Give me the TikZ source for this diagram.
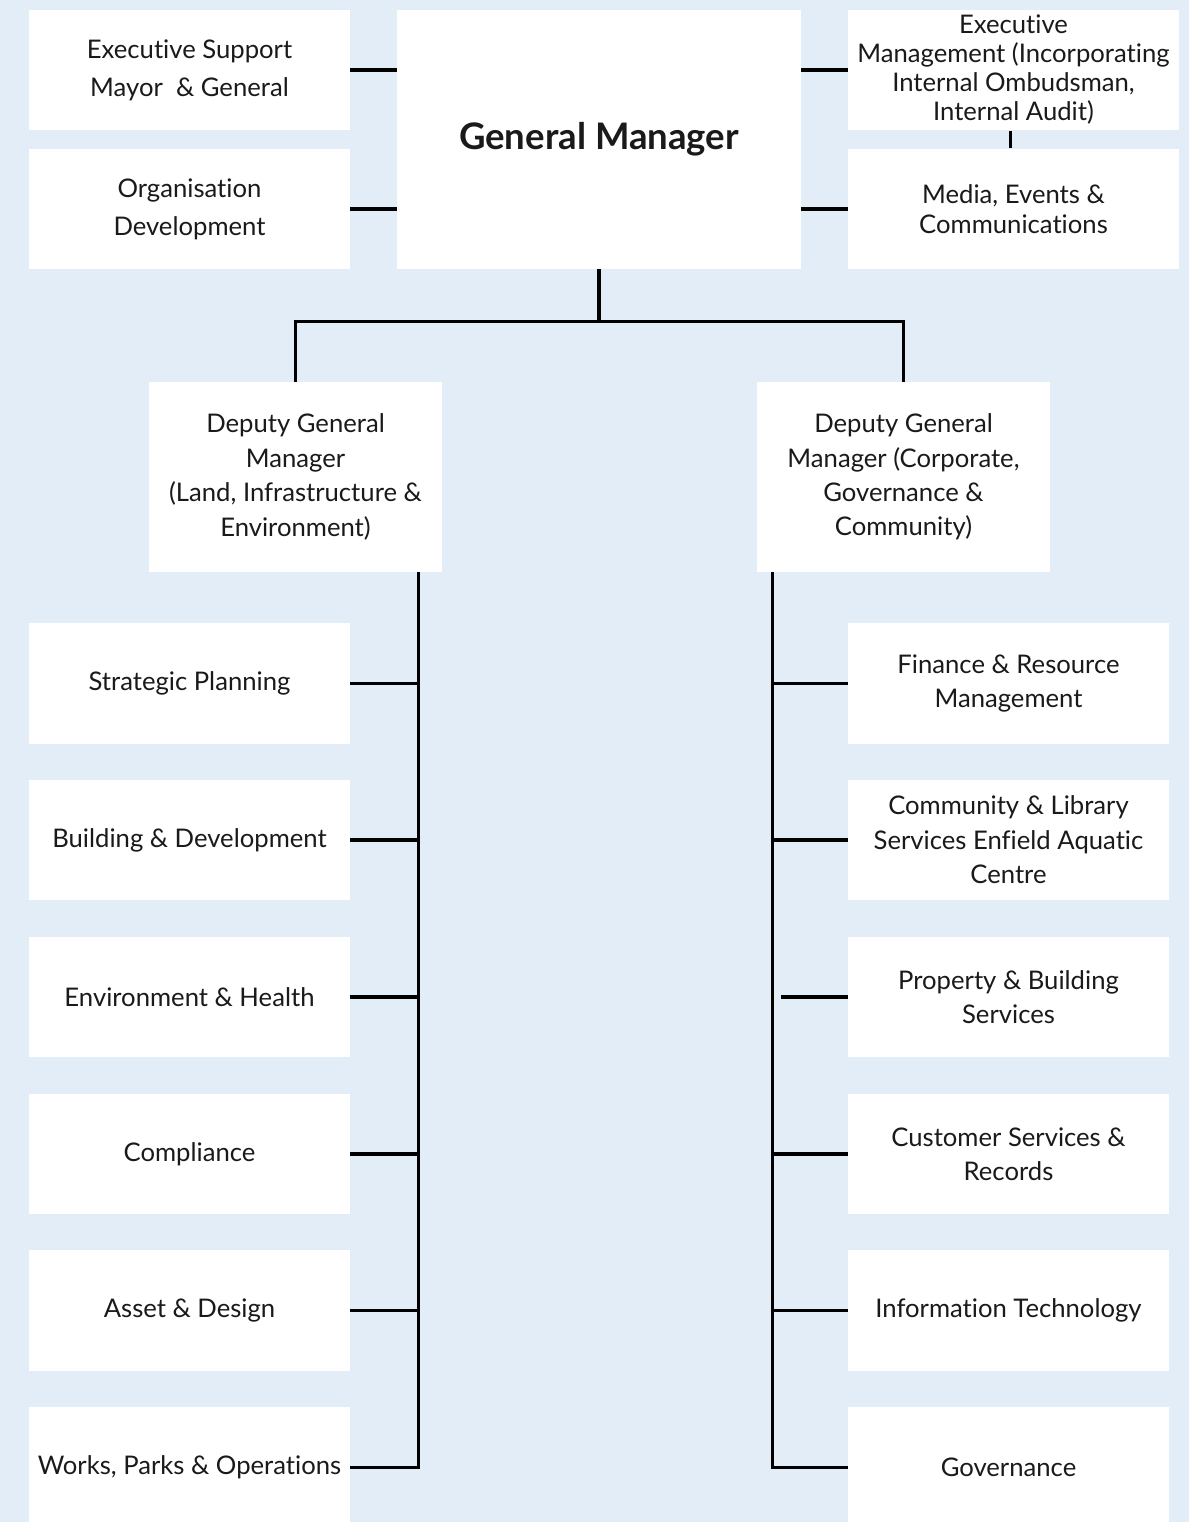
\documentclass[tikz,border=0pt]{standalone}
\usepackage{fontspec}
\setmainfont[Ligatures=NoCommon]{Lato}
\usetikzlibrary{calc}
\definecolor{bgblue}{RGB}{227,237,247}
\definecolor{ink}{RGB}{26,26,26}

\begin{document}
\begin{tikzpicture}[
    box/.style={fill=white, text=ink, align=center, inner sep=0pt, minimum width=6.42cm, minimum height=2.41cm, font=\fontsize{14.6}{19.6}\selectfont},
    dgm/.style={box, minimum width=5.86cm, minimum height=3.8cm},
    link/.style={draw=black, line width=1.75pt}]
        \fill[bgblue] (0, 0) rectangle (23.78, -30.44);
        \useasboundingbox (0, 0) rectangle (23.78, -30.44);

        \node[box, font=\fontsize{14.6}{21.5}\selectfont] (exsup) at (3.79, -1.40) {Executive Support\\Mayor~~\& General};
        \node[box, font=\fontsize{14.6}{21.5}\selectfont] (orgdev) at (3.79, -4.18) {Organisation\\Development};
        \node[box, minimum width=8.08cm, minimum height=5.18cm, font=\fontsize{20.8}{24}\selectfont\bfseries] (gm) at (11.98, -2.79) {General Manager};
        \node[box, minimum width=6.62cm, font=\fontsize{14.6}{16.5}\selectfont] (exmgmt) at (20.27, -1.40) {Executive\\Management (Incorporating\\Internal Ombudsman,\\Internal Audit)};
        \node[box, minimum width=6.62cm, font=\fontsize{14.6}{17}\selectfont] (media) at (20.27, -4.18) {Media, Events \&\\Communications};

        \node[dgm] (dgmL) at (5.91, -9.54) {Deputy General\\Manager\\(Land, Infrastructure \&\\Environment)};
        \node[dgm] (dgmR) at (18.07, -9.54) {Deputy General\\Manager (Corporate,\\Governance \&\\Community)};

        \node[box] (strat) at (3.79, -13.67) {Strategic Planning};
        \node[box] (build) at (3.79, -16.80) {Building \& Development};
        \node[box] (envh) at (3.79, -19.94) {Environment \& Health};
        \node[box] (compl) at (3.79, -23.08) {Compliance};
        \node[box] (asset) at (3.79, -26.21) {Asset \& Design};
        \node[box] (works) at (3.79, -29.35) {Works, Parks \& Operations};

        \node[box] (fin) at (20.17, -13.67) {Finance \& Resource\\Management};
        \node[box] (comm) at (20.17, -16.80) {Community \& Library\\Services Enfield Aquatic\\Centre};
        \node[box] (prop) at (20.17, -19.94) {Property \& Building\\Services};
        \node[box] (cust) at (20.17, -23.08) {Customer Services \&\\Records};
        \node[box] (info) at (20.17, -26.21) {Information Technology};
        \node[box] (gov) at (20.17, -29.35) {Governance};

        \draw[link] (exsup.east) -- (exsup.east -| gm.west);
        \draw[link] (orgdev.east) -- (orgdev.east -| gm.west);
        \draw[link] (gm.east |- exmgmt.west) -- (exmgmt.west);
        \draw[link] (gm.east |- media.west) -- (media.west);
        \draw[link] ($(exmgmt.south)+(-0.06, 0)$) -- ($(media.north)+(-0.06, 0)$);

        \coordinate (split) at ($(gm.south)+(0, -1.04)$);
        \draw[link] (gm.south) -- (split);
        \draw[link] (dgmL.north) |- (split) -| (dgmR.north);

        \coordinate (trunkL) at ($(dgmL.south east)+(-0.48, 0)$);
        \draw[link] (trunkL) |- (works.east);
        \foreach \n in {strat, build, envh, compl, asset}
            \draw[link] (\n.east) -- (\n.east -| trunkL);

        \coordinate (trunkR) at ($(dgmR.south west)+(0.32, 0)$);
        \draw[link] (trunkR) |- (gov.west);
        \foreach \n in {fin, comm, cust, info}
            \draw[link] (\n.west) -- (\n.west -| trunkR);
        \draw[link] (prop.west) -- ($(prop.west -| trunkR)+(0.16, 0)$);
    \end{tikzpicture}
\end{document}
